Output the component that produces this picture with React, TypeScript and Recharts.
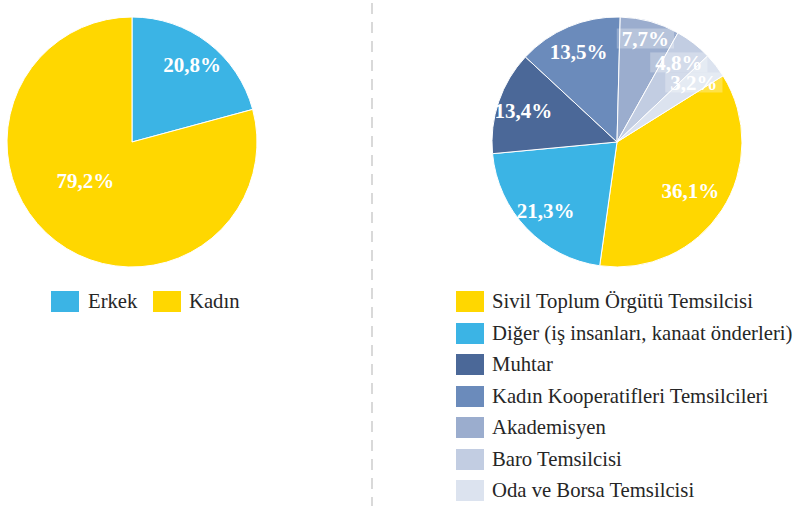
import React from 'react';
import { PieChart, Pie, Cell } from 'recharts';

const genderNames = ['Erkek', 'Kadın'];
const genderValues = [20.8, 79.2];
const genderColors = ['#3BB4E5', '#FFD700'];

const roleNames = [
  'Sivil Toplum Örgütü Temsilcisi',
  'Diğer (iş insanları, kanaat önderleri)',
  'Muhtar',
  'Kadın Kooperatifleri Temsilcileri',
  'Akademisyen',
  'Baro Temsilcisi',
  'Oda ve Borsa Temsilcisi',
];
const roleValues = [36.1, 21.3, 13.4, 13.5, 7.7, 4.8, 3.2];
const roleColors = ['#FFD700', '#3BB4E5', '#4B6898', '#6B8BBB', '#9BADCE', '#C2CDE2', '#DCE3EF'];

const genderData = genderNames.map((name, i) => ({ name, value: genderValues[i] }));
const roleData = roleNames.map((name, i) => ({ name, value: roleValues[i] }));

const RADIAN = Math.PI / 180;
const FONT = '"Liberation Serif", "Times New Roman", serif';

const fmt = (v: number) => v.toFixed(1).replace('.', ',') + '%';

const renderLabel = (props: any) => {
  const { cx, cy, midAngle, outerRadius, value } = props;
  let ratio = 0.79;
  let ang = midAngle;
  if (value > 50) {
    ratio = 0.48;
    ang = midAngle - 13.5;
  } else if (value > 30) {
    ratio = 0.7;
  } else if (value < 10) {
    ratio = 0.72 + value * 0.018;
  }
  const r = outerRadius * ratio;
  const x = cx + r * Math.cos(-ang * RADIAN);
  const y = cy + r * Math.sin(-ang * RADIAN);
  const text = fmt(value);
  const boxed = value < 10;
  const w = (text.length - 2) * 10.5 + 21 + 5.25 + 10;
  return (
    <g>
      {boxed && (
        <rect x={x - w / 2} y={y - 10} width={w} height={20} fill="#ffffff" fillOpacity={0.28} />
      )}
      <text
        x={x}
        y={y + 1}
        fill="#ffffff"
        textAnchor="middle"
        dominantBaseline="central"
        fontFamily={FONT}
        fontWeight="bold"
        fontSize={21}
      >
        {text}
      </text>
    </g>
  );
};

const legendText: React.CSSProperties = {
  position: 'absolute',
  fontFamily: FONT,
  fontSize: 20.7,
  color: '#262626',
  lineHeight: '21px',
  whiteSpace: 'nowrap',
};

export default function App() {
  return (
    <div style={{ position: 'absolute', left: 0, top: 0, width: 796, height: 506, background: '#ffffff' }}>
      <PieChart width={796} height={506} margin={{ top: 0, right: 0, bottom: 0, left: 0 }}>
        <Pie
          data={genderData}
          dataKey="value"
          cx={132}
          cy={142}
          outerRadius={125}
          startAngle={90}
          endAngle={-270}
          stroke="#ffffff"
          strokeWidth={1}
          label={renderLabel}
          labelLine={false}
          isAnimationActive={false}
        >
          {genderData.map((d, i) => (
            <Cell key={d.name} fill={genderColors[i]} />
          ))}
        </Pie>
        <Pie
          data={roleData}
          dataKey="value"
          cx={617}
          cy={142}
          outerRadius={125}
          startAngle={32}
          endAngle={-328}
          stroke="#ffffff"
          strokeWidth={1}
          label={renderLabel}
          labelLine={false}
          isAnimationActive={false}
        >
          {roleData.map((d, i) => (
            <Cell key={d.name} fill={roleColors[i]} />
          ))}
        </Pie>
      </PieChart>
      <svg width={796} height={506} style={{ position: 'absolute', left: 0, top: 0, pointerEvents: 'none' }}>
        <line x1={372} y1={3} x2={372} y2={506} stroke="#D9D9D9" strokeWidth={2} strokeDasharray="11 8" />
      </svg>
      {genderNames.map((n, i) => (
        <React.Fragment key={n}>
          <div style={{ position: 'absolute', left: 51 + i * 102, top: 291, width: 28, height: 21, background: genderColors[i] }} />
          <div style={{ ...legendText, left: 88 + i * 101, top: 291 }}>{n}</div>
        </React.Fragment>
      ))}
      {roleNames.map((n, i) => (
        <React.Fragment key={n}>
          <div style={{ position: 'absolute', left: 456, top: 291 + i * 31.5, width: 28, height: 21, background: roleColors[i] }} />
          <div style={{ ...legendText, left: 492, top: 291 + i * 31.5 }}>{n}</div>
        </React.Fragment>
      ))}
    </div>
  );
}
